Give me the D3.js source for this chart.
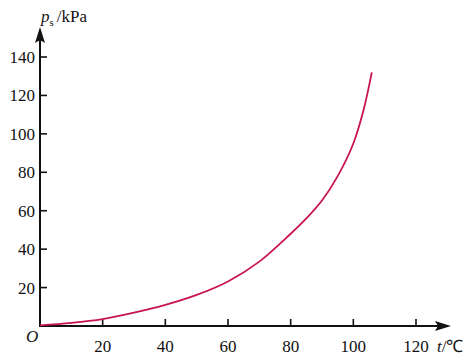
<!DOCTYPE html>
<html><head><meta charset="utf-8">
<script src="https://cdn.jsdelivr.net/npm/d3@7"></script>
<style>body{margin:0;background:#fff}svg{display:block}text{font-family:"Liberation Serif","Times New Roman",serif;fill:#111}</style>
</head><body><svg id="c" width="474" height="360"></svg>
<script>
const temps = [0, 10, 20, 30, 40, 50, 60, 70, 80, 85, 90, 95, 100, 103.2, 105.9];
const pressures = [0.3, 1.6, 3.6, 6.9, 11, 16.2, 23.2, 33.5, 48, 56, 65.3, 78, 95, 112, 132];
const xTicks = [20, 40, 60, 80, 100, 120];
const yTicks = [20, 40, 60, 80, 100, 120, 140];

const svg = d3.select("#c");
const x = d3.scaleLinear().domain([0, 120]).range([40, 416]);
const y = d3.scaleLinear().domain([0, 140]).range([326, 57]);

// axes
svg.append("line").attr("x1", 40).attr("x2", 442).attr("y1", y(0)).attr("y2", y(0)).attr("stroke", "#111").attr("stroke-width", 2);
svg.append("line").attr("x1", 40).attr("x2", 40).attr("y1", y(0) + 1).attr("y2", 36).attr("stroke", "#111").attr("stroke-width", 2);
svg.append("path").attr("d", `M451,${y(0)} L435,${y(0)-5} L438,${y(0)} L435,${y(0)+5} Z`).attr("fill", "#111");
svg.append("path").attr("d", `M40,27 L35,43 L40,40 L45,43 Z`).attr("fill", "#111");

// ticks
const g = svg.append("g");
xTicks.forEach(t => {
  g.append("line").attr("x1", x(t)).attr("x2", x(t)).attr("y1", y(0)).attr("y2", y(0) - 7).attr("stroke", "#111").attr("stroke-width", 1.6);
  g.append("text").attr("x", x(t)).attr("y", 352).attr("text-anchor", "middle").attr("font-size", 17).text(t);
});
yTicks.forEach(v => {
  g.append("line").attr("x1", 40).attr("x2", 47).attr("y1", y(v)).attr("y2", y(v)).attr("stroke", "#111").attr("stroke-width", 1.6);
  g.append("text").attr("x", 35).attr("y", y(v) + 6).attr("text-anchor", "end").attr("font-size", 17).text(v);
});
// origin
svg.append("text").attr("x", 26).attr("y", 342).attr("font-size", 17).attr("font-style", "italic").text("O");

// y title
const yt = svg.append("text").attr("x", 41).attr("y", 22).attr("font-size", 17);
yt.append("tspan").attr("font-style", "italic").text("p");
yt.append("tspan").attr("font-size", 11).attr("dy", 4).text("s");
yt.append("tspan").attr("dy", -4).attr("dx", 3).text("/kPa");

// x title
const xt = svg.append("text").attr("x", 437).attr("y", 352).attr("font-size", 17);
xt.append("tspan").attr("font-style", "italic").text("t");
xt.append("tspan").text("/℃");

// curve
const line = d3.line().x((d, i) => x(temps[i])).y(d => y(d)).curve(d3.curveCatmullRom.alpha(0.5));
svg.append("path").datum(pressures).attr("d", line).attr("fill", "none").attr("stroke", "#c8144e").attr("stroke-width", 1.8);
</script></body></html>
